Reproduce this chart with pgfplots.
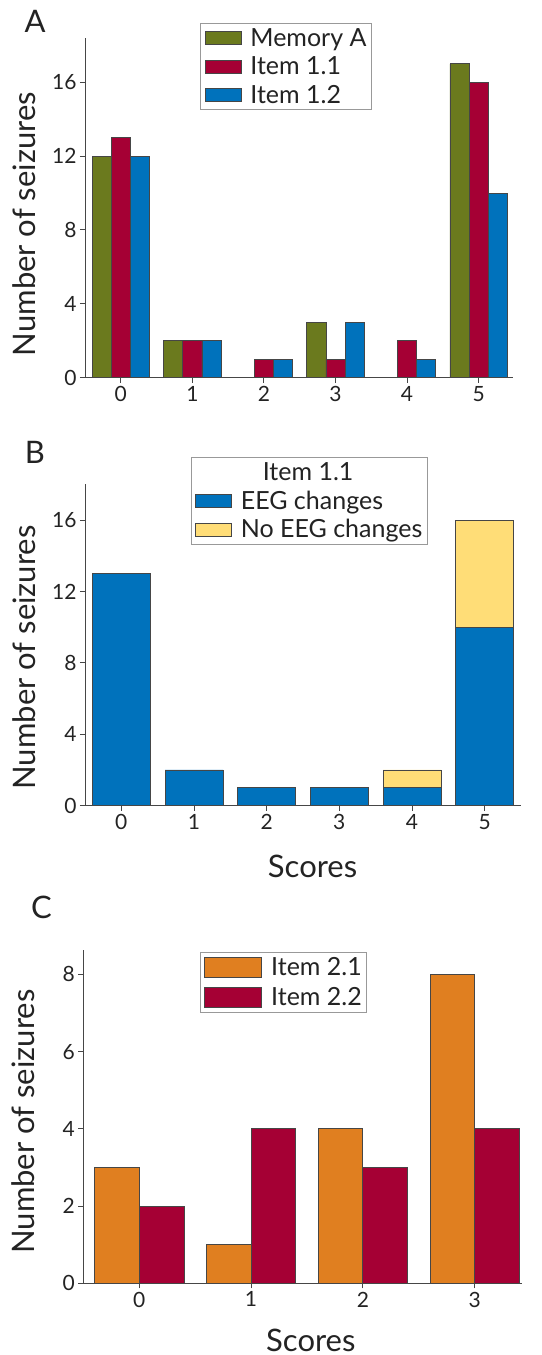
\documentclass[border=0pt]{standalone}
\usepackage{fontspec}
\setmainfont{Lato}
\usepackage{pgfplots}
\pgfplotsset{compat=1.18}
\definecolor{cgreen}{RGB}{107,122,30}
\definecolor{cred}{RGB}{165,0,52}
\definecolor{cblue}{RGB}{0,114,188}
\definecolor{cyellow}{RGB}{255,221,119}
\definecolor{corange}{RGB}{224,127,32}
\definecolor{axgray}{RGB}{70,70,70}
\definecolor{txt}{RGB}{35,35,35}
\pgfplotsset{
  panel/.style={
    scale only axis,
    axis x line=bottom, axis y line=left,
    axis line style={-, draw=axgray, line width=1bp},
    enlargelimits=false,
    tick align=outside,
    major tick length=5bp,
    tick style={draw=axgray, line width=1bp},
    /pgf/number format/assume math mode=true,
    ticklabel style={font=\fontsize{21bp}{24bp}\selectfont, text=txt},
    label style={font=\fontsize{31bp}{36bp}\selectfont, text=txt},
    ymin=0,
    xtick=data,
    legend style={draw=gray!80, line width=1bp, fill=white, text=txt,
      font=\fontsize{25bp}{28bp}\selectfont, legend cell align=left,
      inner xsep=4bp, inner ysep=4bp, row sep=7bp,
      nodes={inner sep=1bp},
      /tikz/every odd column/.append style={column sep=8bp}},
  },
  barst/.style={draw=axgray, line width=0.8bp},
}
\begin{document}
\begin{tikzpicture}
\useasboundingbox (0,0) rectangle (542bp,1355bp);
% Panel A
\begin{axis}[panel,
  at={(85bp,977.3bp)}, anchor=south west,
  width=428bp, height=339.7bp,
  xmin=-0.5, xmax=5.48, ymax=18.4,
  ytick={0,4,8,12,16},
  ybar=0pt, bar width=19.1bp,
  legend image code/.code={\draw[#1] (0bp,-6.5bp) rectangle (36bp,6.5bp);},
  ylabel={Number of seizures},
  ylabel style={at={(axis description cs:-0.1425,0.452)}, anchor=center},
  legend style={at={(axis description cs:0.269,1.044)}, anchor=north west},
]
\addplot[barst, fill=cgreen] coordinates {(0,12) (1,2) (2,0) (3,3) (4,0) (5,17)};
\addlegendentry{Memory A}
\addplot[barst, fill=cred] coordinates {(0,13) (1,2) (2,1) (3,1) (4,2) (5,16)};
\addlegendentry{Item 1.1}
\addplot[barst, fill=cblue] coordinates {(0,12) (1,2) (2,1) (3,3) (4,1) (5,10)};
\addlegendentry{Item 1.2}
\end{axis}
% Panel B
\begin{axis}[panel,
  at={(85bp,549.3bp)}, anchor=south west,
  width=436bp, height=321.4bp,
  xmin=-0.5, xmax=5.5, ymax=18.0,
  ytick={0,4,8,12,16},
  ybar stacked, bar width=58bp,
  legend image code/.code={\draw[#1] (0bp,-6.5bp) rectangle (36bp,6.5bp);},
  ylabel={Number of seizures},
  ylabel style={at={(axis description cs:-0.14,0.461)}, anchor=center},
  xlabel={Scores},
  xlabel style={at={(axis description cs:0.522,-0.19)}, anchor=center},
  legend style={at={(axis description cs:0.242,1.086)}, anchor=north west},
]
\addlegendimage{empty legend}
\addlegendentry{\hspace*{22bp}Item 1.1}
\addplot[barst, fill=cblue] coordinates {(0,13) (1,2) (2,1) (3,1) (4,1) (5,10)};
\addlegendentry{EEG changes}
\addplot[barst, fill=cyellow] coordinates {(0,0) (1,0) (2,0) (3,0) (4,1) (5,6)};
\addlegendentry{No EEG changes}
\end{axis}
% Panel C
\begin{axis}[panel,
  at={(83.3bp,71.7bp)}, anchor=south west,
  width=438.4bp, height=333.3bp,
  xmin=-0.5, xmax=3.42, ymax=8.63,
  ytick={0,2,4,6,8},
  ybar=0pt, bar width=44.7bp,
  legend image code/.code={\draw[#1] (0bp,-10bp) rectangle (57bp,10bp);},
  ylabel={Number of seizures},
  ylabel style={at={(axis description cs:-0.137,0.485)}, anchor=center},
  xlabel={Scores},
  xlabel style={at={(axis description cs:0.519,-0.17)}, anchor=center},
  legend style={at={(axis description cs:0.266,0.995)}, anchor=north west, row sep=9bp},
]
\addplot[barst, fill=corange] coordinates {(0,3) (1,1) (2,4) (3,8)};
\addlegendentry{Item 2.1}
\addplot[barst, fill=cred] coordinates {(0,2) (1,4) (2,3) (3,4)};
\addlegendentry{Item 2.2}
\end{axis}
\node[font=\fontsize{31bp}{36bp}\selectfont, text=txt] at (35bp,1333.5bp) {A};
\node[font=\fontsize{31bp}{36bp}\selectfont, text=txt] at (35bp,902.5bp) {B};
\node[font=\fontsize{31bp}{36bp}\selectfont, text=txt] at (41.5bp,447.5bp) {C};
\end{tikzpicture}
\end{document}
